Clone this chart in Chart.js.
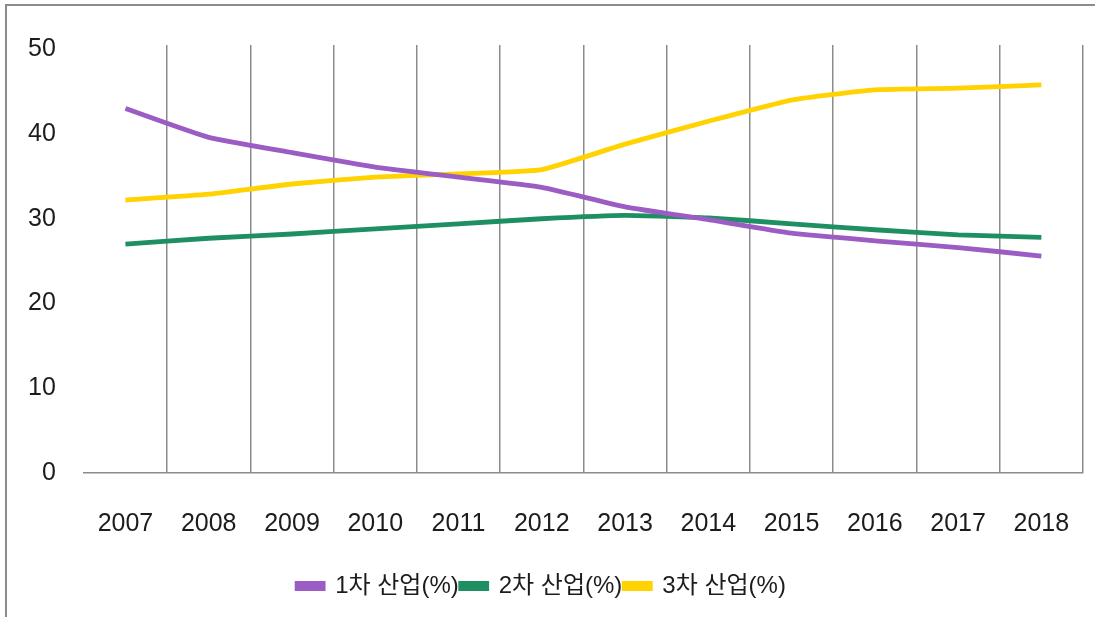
<!DOCTYPE html>
<html>
<head>
<meta charset="utf-8">
<script src="https://cdn.jsdelivr.net/npm/chart.js@4.4.1/dist/chart.umd.min.js"></script>
<style>
  html, body { margin: 0; padding: 0; background: #fff; }
  #frame {
    position: absolute; left: 5px; top: 4px; width: 1095px; height: 620px;
    border-top: 2px solid #8c8c8c; border-left: 2px solid #8c8c8c;
  }
  #wrap { position: absolute; left: 0; top: 0; width: 1095px; height: 617px; }
</style>
</head>
<body>
<div id="frame"></div>
<div id="wrap"><canvas id="chart"></canvas></div>
<script>
// 데이터
const years = ["2007", "2008", "2009", "2010", "2011", "2012", "2013", "2014", "2015", "2016", "2017", "2018"];
const primary = [43.0, 39.6, 37.8, 36.1, 34.9, 33.7, 31.4, 29.9, 28.3, 27.4, 26.6, 25.6];
const secondary = [27.0, 27.7, 28.2, 28.8, 29.4, 30.0, 30.4, 30.1, 29.4, 28.7, 28.1, 27.8];
const tertiary = [32.2, 32.9, 34.1, 34.9, 35.3, 35.8, 38.8, 41.5, 44.0, 45.2, 45.4, 45.8];
const seriesNames = ["1차 산업(%)", "2차 산업(%)", "3차 산업(%)"];
const yTicks = [0, 10, 20, 30, 40, 50];

const FONT = '"Liberation Sans", "Noto Sans CJK KR", Arial, sans-serif';
const GRID = "#8c8c8c";
const TEXT = "#1c1c1c";

const makeSet = (label, data, color) => ({
  label: label,
  data: data,
  borderColor: color,
  backgroundColor: color,
  borderWidth: 4.8,
  pointRadius: 0,
  tension: 0.15,
  fill: false,
});

const chart = new Chart(document.getElementById("chart"), {
  type: "line",
  data: {
    labels: years,
    datasets: [
      makeSet(seriesNames[0], primary, "#9b5cc4"),
      makeSet(seriesNames[1], secondary, "#1e8f62"),
      makeSet(seriesNames[2], tertiary, "#ffd200"),
    ],
  },
  options: {
    responsive: true,
    maintainAspectRatio: false,
    animation: false,
    layout: {
      padding: { left: 0, right: 12, top: 45, bottom: 9 },
    },
    plugins: {
      legend: {
        position: "bottom",
        labels: {
          boxWidth: 26,
          boxHeight: 5,
          padding: 2,
          color: TEXT,
          font: { family: FONT, size: 24 },
        },
      },
      tooltip: { enabled: false },
    },
    scales: {
      x: {
        offset: true,
        afterFit: (axis) => {
          axis.height -= 3;
          axis.paddingLeft = 0;
          axis.paddingRight = 0;
        },
        grid: {
          offset: true,
          drawTicks: false,
          lineWidth: 1.5,
          color: (ctx) => (ctx.index === 0 ? "rgba(0,0,0,0)" : GRID),
        },
        border: { display: true, color: GRID, width: 1.5 },
        ticks: {
          padding: 36,
          color: TEXT,
          font: { family: FONT, size: 25 },
        },
      },
      y: {
        min: 0,
        max: 50.5,
        afterBuildTicks: (axis) => {
          axis.ticks = yTicks.map((v) => ({ value: v }));
        },
        grid: { display: false, drawTicks: false },
        border: { display: false },
        ticks: {
          padding: 28,
          color: TEXT,
          font: { family: FONT, size: 25 },
        },
      },
    },
  },
});
</script>
</body>
</html>
